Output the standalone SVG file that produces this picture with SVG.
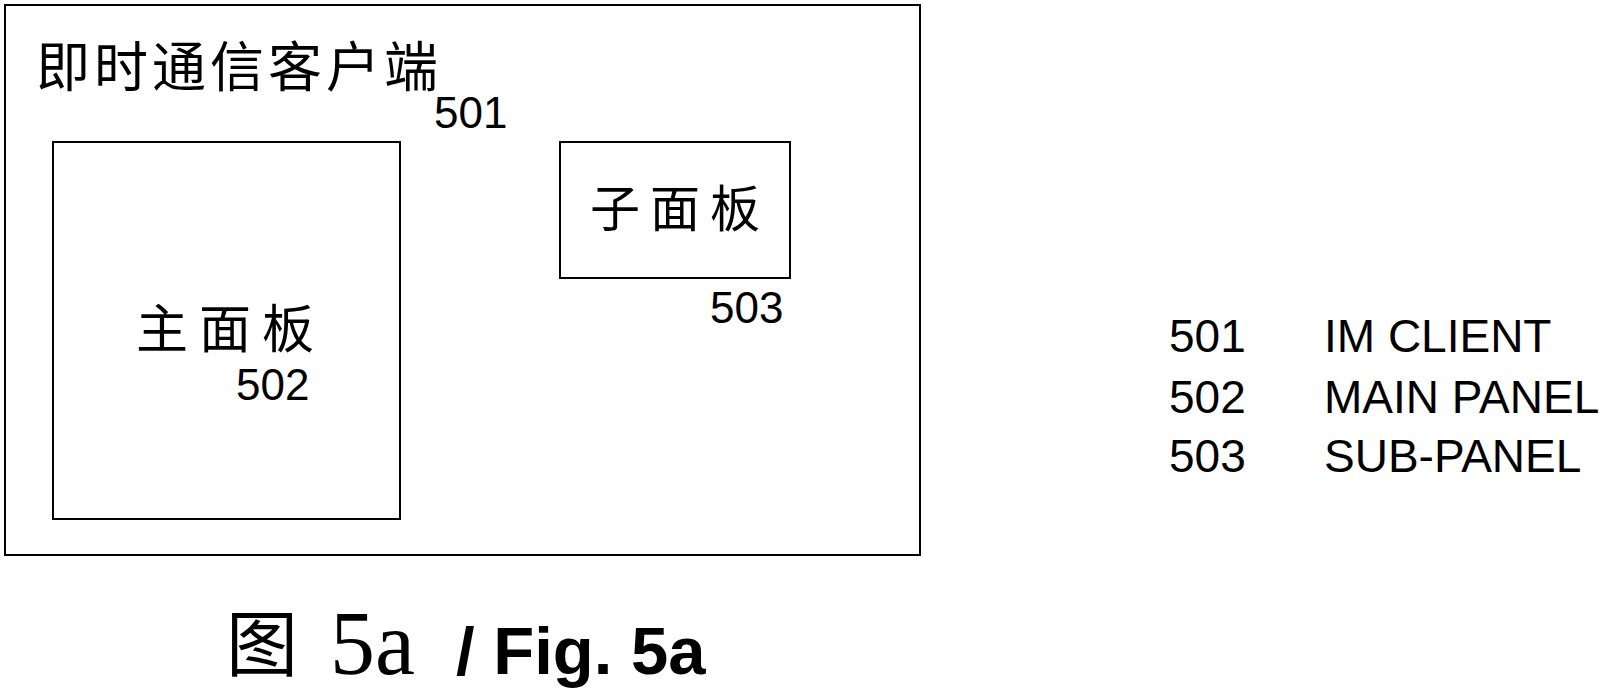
<svg xmlns="http://www.w3.org/2000/svg" width="1610" height="694" viewBox="0 0 1610 694">
<style>
.box{fill:none;stroke:#000;stroke-width:2}
.cjk{font-family:"Noto Sans CJK SC","Noto Sans CJK JP",serif;fill:#000}
.num{font-family:"Liberation Sans",Arial,sans-serif;font-size:44px;fill:#000}
.leg{font-family:"Liberation Sans",Arial,sans-serif;font-size:46px;fill:#000}
.cap{font-family:"Liberation Serif","Times New Roman",serif;font-size:90px;fill:#000}
.fig{font-family:"Liberation Sans",Arial,sans-serif;font-size:67px;font-weight:bold;fill:#000}
</style>
<rect width="1610" height="694" fill="#fff"/>
<g id="n501">
<rect class="box" x="5" y="5" width="915" height="550"/>
<text class="cjk" x="36" y="87" font-size="54" letter-spacing="4">即时通信客户端</text>
<text class="num" x="434" y="128">501</text>
</g>
<g id="n502">
<rect class="box" x="53" y="142" width="347" height="377"/>
<text class="cjk" x="136" y="348" font-size="52" letter-spacing="11">主面板</text>
<text class="num" x="236" y="400">502</text>
</g>
<g id="n503">
<rect class="box" x="560" y="142" width="230" height="136"/>
<text class="cjk" x="590" y="227" font-size="50" letter-spacing="10">子面板</text>
<text class="num" x="710" y="323">503</text>
</g>
<g id="connectors"></g>
<g id="legend">
<text class="leg" x="1169" y="352">501</text>
<text class="leg" x="1324" y="352">IM CLIENT</text>
<text class="leg" x="1169" y="413">502</text>
<text class="leg" x="1324" y="413">MAIN PANEL</text>
<text class="leg" x="1169" y="472">503</text>
<text class="leg" x="1324" y="472">SUB-PANEL</text>
</g>
<g id="caption">
<text class="cjk" x="226" y="670" font-size="72">图</text>
<text class="cap" x="330" y="674">5a</text>
<text class="fig" x="456" y="674">/ Fig. 5a</text>
</g>
</svg>
